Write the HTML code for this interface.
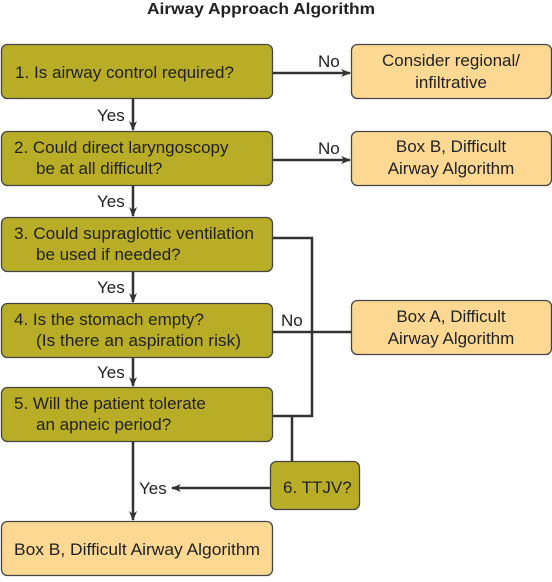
<!DOCTYPE html>
<html><head><style>
body{margin:0;width:552px;height:577px;background:#fff;font-family:"Liberation Sans",sans-serif;}
svg text{font-family:"Liberation Sans",sans-serif;fill:#222;}
</style></head><body>
<svg width="552" height="577" xmlns="http://www.w3.org/2000/svg">
<defs><marker id="a" markerWidth="10" markerHeight="8" refX="9" refY="4" orient="auto" markerUnits="userSpaceOnUse"><path d="M0,0 L10,4 L0,8 L3,4 Z" fill="#333"/></marker></defs>
<text x="147" y="14" font-size="16" font-weight="bold" textLength="228" lengthAdjust="spacingAndGlyphs">Airway Approach Algorithm</text>
<g stroke="#444" stroke-width="1.3">
<rect x="1.5" y="44.5" width="271" height="54" rx="6" fill="#b9ad28"/>
<rect x="1.5" y="131.5" width="271" height="54" rx="6" fill="#b9ad28"/>
<rect x="1.5" y="217.5" width="271" height="54" rx="6" fill="#b9ad28"/>
<rect x="1.5" y="303.5" width="271" height="54" rx="6" fill="#b9ad28"/>
<rect x="1.5" y="387.5" width="271" height="54" rx="6" fill="#b9ad28"/>
<rect x="270.5" y="461.5" width="89" height="48" rx="6" fill="#b9ad28"/>
<rect x="1.5" y="521.5" width="271" height="54" rx="6" fill="#fdd893"/>
<rect x="351.5" y="44.5" width="200" height="54" rx="6" fill="#fdd893"/>
<rect x="351.5" y="131.5" width="200" height="54" rx="6" fill="#fdd893"/>
<rect x="351.5" y="300.5" width="200" height="54" rx="6" fill="#fdd893"/>
</g>
<g stroke="#333" stroke-width="2.5" fill="none">
<line x1="273" y1="73" x2="350" y2="73" marker-end="url(#a)"/>
<line x1="273" y1="160" x2="350" y2="160" marker-end="url(#a)"/>
<line x1="133" y1="99" x2="133" y2="130" marker-end="url(#a)"/>
<line x1="133" y1="186" x2="133" y2="216" marker-end="url(#a)"/>
<line x1="133" y1="272" x2="133" y2="302" marker-end="url(#a)"/>
<line x1="133" y1="358" x2="133" y2="386" marker-end="url(#a)"/>
<line x1="133" y1="442" x2="133" y2="520" marker-end="url(#a)"/>
<polyline points="273,238 312,238 312,416 273,416"/>
<line x1="273" y1="332" x2="351" y2="332"/>
<line x1="292" y1="416" x2="292" y2="461"/>
<line x1="270" y1="488" x2="172" y2="488" marker-end="url(#a)"/>
</g>
<g font-size="17">
<text x="15" y="78" textLength="219" lengthAdjust="spacingAndGlyphs">1. Is airway control required?</text>
<text x="14" y="153">2. Could direct laryngoscopy</text>
<text x="36" y="174">be at all difficult?</text>
<text x="14" y="239" textLength="240" lengthAdjust="spacingAndGlyphs">3. Could supraglottic ventilation</text>
<text x="36" y="260">be used if needed?</text>
<text x="14" y="325">4. Is the stomach empty?</text>
<text x="36" y="346" textLength="205" lengthAdjust="spacingAndGlyphs">(Is there an aspiration risk)</text>
<text x="14" y="409">5. Will the patient tolerate</text>
<text x="36" y="430">an apneic period?</text>
<text x="283" y="493">6. TTJV?</text>
<text x="14" y="555" textLength="246" lengthAdjust="spacingAndGlyphs">Box B, Difficult Airway Algorithm</text>
<text x="451" y="66" text-anchor="middle">Consider regional/</text>
<text x="451" y="88" text-anchor="middle">infiltrative</text>
<text x="451" y="152" text-anchor="middle">Box B, Difficult</text>
<text x="451" y="174" text-anchor="middle">Airway Algorithm</text>
<text x="451" y="322" text-anchor="middle">Box A, Difficult</text>
<text x="451" y="344" text-anchor="middle">Airway Algorithm</text>
<text x="318" y="67">No</text>
<text x="318" y="154">No</text>
<text x="281" y="326">No</text>
<text x="97" y="121">Yes</text>
<text x="97" y="207">Yes</text>
<text x="97" y="293">Yes</text>
<text x="97" y="378">Yes</text>
<text x="139" y="494">Yes</text>
</g>
</svg>
</body></html>
